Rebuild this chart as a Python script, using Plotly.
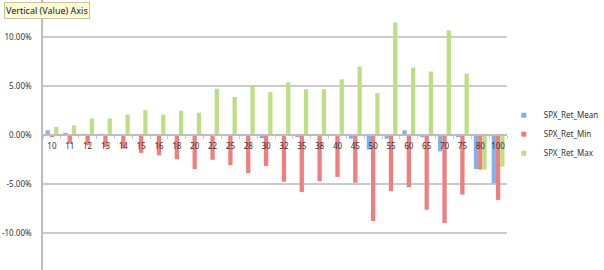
import plotly.graph_objects as go

categories = ["10", "11", "12", "13", "14", "15", "16", "18", "20", "22", "25", "28", "30",
              "32", "35", "38", "40", "45", "50", "55", "60", "65", "70", "75", "80", "100"]
ret_mean = [0.50, 0.25, 0.15, 0.15, 0.05, 0.10, 0.10, 0.05, 0.05, 0.05, -0.05, 0.02, -0.30,
            0.02, -0.10, 0.05, 0.02, -0.35, -1.45, -0.35, 0.50, -0.20, -1.65, -0.10, -3.45, -4.90]
ret_min = [-0.10, -0.85, -1.00, -1.20, -1.35, -1.80, -2.05, -2.45, -3.45, -2.50, -3.05, -3.85, -3.15,
           -4.75, -5.80, -4.70, -4.25, -4.85, -8.75, -5.70, -5.30, -7.60, -8.95, -6.05, -3.50, -6.60]
ret_max = [0.85, 1.00, 1.70, 1.70, 2.10, 2.55, 2.10, 2.50, 2.30, 4.75, 3.90, 5.00, 4.40,
           5.40, 4.70, 4.70, 5.70, 7.00, 4.30, 11.50, 6.90, 6.50, 10.70, 6.30, -3.50, -3.20]
y_ticks = [-10, -5, 0, 5, 10]
series_names = ["SPX_Ret_Mean", "SPX_Ret_Min", "SPX_Ret_Max"]

y_range = [-13.75, 13.8]
font_family = "Noto Sans, DejaVu Sans, sans-serif"
colors = ["#7DB2EC", "#F07E7E", "#BCDF82"]

fig = go.Figure()
for name, vals, color in zip(series_names, [ret_mean, ret_min, ret_max], colors):
    fig.add_trace(go.Bar(x=categories, y=vals, name=name, showlegend=False,
                         marker=dict(color=color, line=dict(width=0))))
# legend entries with small square swatches
for name, color in zip(series_names, colors):
    fig.add_trace(go.Scatter(x=[None], y=[None], name=name, mode="markers",
                             marker=dict(symbol="square", size=5, color=color)))

fig.update_layout(
    width=604, height=270,
    margin=dict(l=43, r=89, t=0, b=0),
    paper_bgcolor="white", plot_bgcolor="white",
    barmode="group", bargap=0.28, bargroupgap=0,
    font=dict(family=font_family, size=8, color="#333333"),
    showlegend=True,
    legend=dict(x=0.993, y=0.627, xanchor="left", yanchor="top",
                font=dict(size=8, color="#333333"), itemwidth=30,
                bgcolor="rgba(0,0,0,0)", tracegroupgap=0),
    xaxis=dict(type="category", anchor="free",
               position=(0 - y_range[0]) / (y_range[1] - y_range[0]),
               showline=True, linecolor="#BDBDBD", linewidth=1.5,
               ticks="outside", tickson="boundaries", ticklen=3, tickcolor="#C8C8C8",
               tickangle=0, showgrid=False, ticklabelstandoff=3,
               tickfont=dict(size=8, color="#333333"), layer="above traces"),
    yaxis=dict(range=y_range, tickvals=y_ticks,
               ticktext=[f"{v:.2f}%" for v in y_ticks],
               showgrid=True, gridcolor="#CBCBCB", gridwidth=1.5,
               zeroline=True, zerolinecolor="#BDBDBD", zerolinewidth=1.5,
               showline=True, linecolor="#BDBDBD", linewidth=1.5,
               ticks="", ticklabelstandoff=8,
               tickfont=dict(size=8, color="#333333")),
)

fig.add_annotation(xref="paper", yref="paper", x=-43 / 472 + 3 / 472, y=1 - 2 / 270,
                   xanchor="left", yanchor="top", showarrow=False,
                   text="Vertical (Value) Axis", font=dict(size=9, color="#222222", family=font_family),
                   bgcolor="#FDFBD6", bordercolor="#C9C3A0", borderwidth=1, borderpad=1)

fig.write_html("out.html")
